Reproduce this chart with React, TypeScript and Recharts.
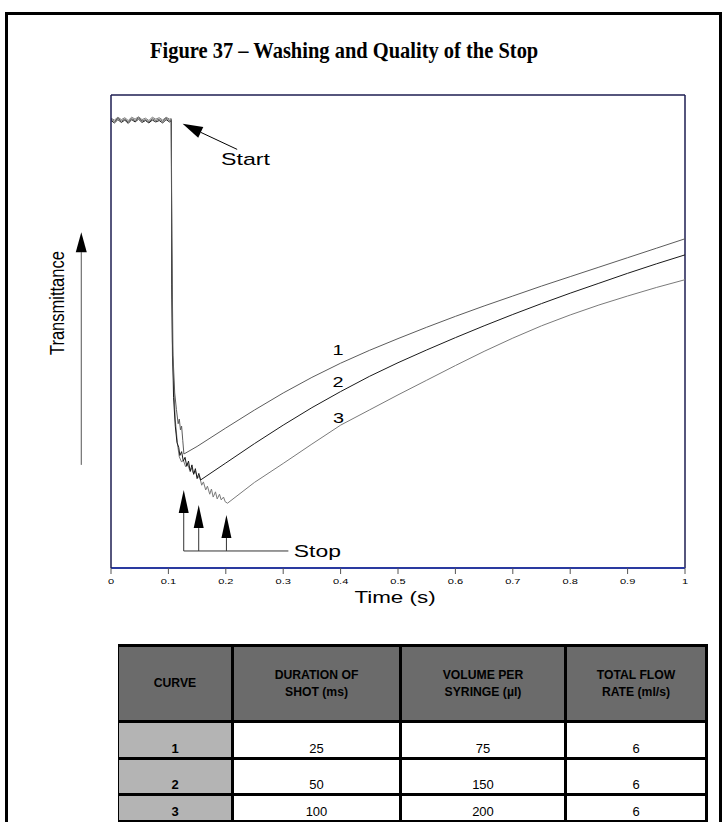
import React from "react";
import { LineChart, Line, XAxis, YAxis, ReferenceLine, ReferenceDot } from "recharts";

// time (s), transmittance (arbitrary units, 0-100)
const curve1: Array<[number, number]> = [
  [0, 94.9], [0.006, 94.4], [0.012, 95.1], [0.018, 94.5], [0.024, 94.9], [0.03, 94.3], [0.036, 95.0],
  [0.042, 94.6], [0.048, 95.2], [0.054, 94.5], [0.06, 94.8], [0.066, 94.3], [0.072, 95.0], [0.078, 94.6],
  [0.084, 94.9], [0.09, 94.4], [0.096, 95.1], [0.102, 94.6], [0.105, 94.8],
  [0.106, 70], [0.108, 45], [0.111, 37], [0.114, 33.5], [0.117, 30.5], [0.119, 31.5], [0.121, 29.2],
  [0.123, 30.0], [0.125, 27.0], [0.127, 24.1],
  [0.15, 25.7], [0.2, 29.6], [0.25, 33.4], [0.3, 37.0], [0.35, 40.3], [0.4, 43.3], [0.45, 46.0],
  [0.5, 48.5], [0.55, 50.9], [0.6, 53.2], [0.65, 55.4], [0.7, 57.5], [0.75, 59.6], [0.8, 61.6],
  [0.85, 63.6], [0.9, 65.6], [0.95, 67.6], [1, 69.6],
];

const curve2: Array<[number, number]> = [
  [0, 94.6], [0.006, 94.1], [0.012, 94.8], [0.018, 94.2], [0.024, 94.7], [0.03, 94.0], [0.036, 94.8],
  [0.042, 94.3], [0.048, 94.9], [0.054, 94.2], [0.06, 94.6], [0.066, 94.1], [0.072, 94.7], [0.078, 94.3],
  [0.084, 94.6], [0.09, 94.1], [0.096, 94.8], [0.102, 94.3], [0.105, 94.6],
  [0.106, 60], [0.107, 48], [0.109, 36], [0.112, 30], [0.115, 26.5], [0.118, 25.5], [0.12, 23.8],
  [0.123, 24.6], [0.126, 22.6], [0.129, 23.4], [0.132, 21.5], [0.135, 22.6], [0.138, 20.4], [0.141, 21.8],
  [0.144, 19.8], [0.147, 21.0], [0.15, 18.9], [0.153, 20.0], [0.156, 18.6],
  [0.2, 22.2], [0.25, 26.3], [0.3, 30.2], [0.35, 33.9], [0.4, 37.3], [0.45, 40.5], [0.5, 43.4],
  [0.55, 46.1], [0.6, 48.7], [0.65, 51.2], [0.7, 53.6], [0.75, 55.9], [0.8, 58.1], [0.85, 60.2],
  [0.9, 62.3], [0.95, 64.3], [1, 66.2],
];

const curve3: Array<[number, number]> = [
  [0, 95.1], [0.006, 94.7], [0.012, 95.3], [0.018, 94.8], [0.024, 95.2], [0.03, 94.6], [0.036, 95.3],
  [0.042, 94.9], [0.048, 95.4], [0.054, 94.8], [0.06, 95.1], [0.066, 94.6], [0.072, 95.3], [0.078, 94.9],
  [0.084, 95.2], [0.09, 94.7], [0.096, 95.3], [0.102, 94.9], [0.105, 95.0],
  [0.106, 56.7], [0.107, 45], [0.109, 39.7], [0.112, 31.3], [0.116, 26.0], [0.119, 23.5], [0.123, 22.4],
  [0.126, 22.8], [0.13, 21.4], [0.133, 22.2], [0.137, 20.7], [0.14, 21.1], [0.144, 19.9], [0.147, 20.5],
  [0.151, 19.0], [0.154, 19.5], [0.158, 17.5], [0.161, 18.2], [0.165, 16.5], [0.168, 17.3], [0.172, 15.6],
  [0.175, 16.7], [0.178, 15.0], [0.182, 16.1], [0.185, 14.6], [0.189, 15.6], [0.192, 14.4], [0.196, 15.0],
  [0.199, 14.0], [0.203, 13.7],
  [0.25, 18.1], [0.3, 22.1], [0.35, 26.2], [0.4, 30.2], [0.45, 33.4], [0.5, 36.6], [0.55, 39.7],
  [0.6, 42.8], [0.65, 45.8], [0.7, 48.6], [0.75, 51.2], [0.8, 53.5], [0.85, 55.6], [0.9, 57.5],
  [0.95, 59.3], [1, 60.95],
];

const timeTicks = [0, 0.1, 0.2, 0.3, 0.4, 0.5, 0.6, 0.7, 0.8, 0.9, 1];

// stop times of the three shots (flow starts at ~0.1 s)
const stopTimes = [0.1267, 0.1528, 0.2011];
const stopArrowTips = [16.5, 13.3, 11.2];

const tableHeaders = ["CURVE", "DURATION OF\nSHOT (ms)", "VOLUME PER\nSYRINGE (µl)", "TOTAL FLOW\nRATE (ml/s)"];
const tableRows = [
  ["1", "25", "75", "6"],
  ["2", "50", "150", "6"],
  ["3", "100", "200", "6"],
];

const toPoints = (arr: Array<[number, number]>) => arr.map(([t, v]) => ({ t, v }));

const NAVY = "#1e1e52";
const SANS = "Arial, 'Liberation Sans', sans-serif";

function WideText({ x, y, sx = 1.42, size = 16, anchor = "start", children }: any) {
  return (
    <text
      transform={`translate(${x},${y}) scale(${sx},1)`}
      textAnchor={anchor}
      fontSize={size}
      fontFamily={SANS}
      fill="#000"
    >
      {children}
    </text>
  );
}

const arrowShape = (len: number, half: number, color = "#000") => (p: any) => {
  const { x1, y1, x2, y2 } = p;
  const dx = x2 - x1;
  const dy = y2 - y1;
  const d = Math.hypot(dx, dy) || 1;
  const ux = dx / d;
  const uy = dy / d;
  const bx = x2 - ux * len;
  const by = y2 - uy * len;
  const nx = -uy * half;
  const ny = ux * half;
  return (
    <g>
      <line x1={x1} y1={y1} x2={bx} y2={by} stroke={color} strokeWidth={1} />
      <polygon points={`${x2},${y2} ${bx + nx},${by + ny} ${bx - nx},${by - ny}`} fill="#000" />
    </g>
  );
};

const TimeTick = ({ x, y, payload }: any) => (
  <WideText x={x} y={y + 8} sx={1.7} size={6.5} anchor="middle">
    {String(payload.value)}
  </WideText>
);

const textShape = (label: string, opts: any = {}) => (p: any) => (
  <WideText x={p.cx} y={p.cy} {...opts}>
    {label}
  </WideText>
);

export default function App() {
  const cellBorder = "3px solid #000";
  const colWidths = [114, 168, 165, 141];
  const rowHeights = [37, 36, 27];
  return (
    <div
      style={{
        position: "absolute",
        left: 0,
        top: 0,
        width: 724,
        height: 822,
        overflow: "hidden",
        background: "#fff",
        fontFamily: SANS,
      }}
    >
      <div
        style={{
          position: "absolute",
          left: 5,
          top: 12,
          width: 711,
          height: 900,
          border: "3px solid #000",
        }}
      />
      <div
        style={{
          position: "absolute",
          left: 150,
          top: 39,
          fontFamily: "'Times New Roman', 'Liberation Serif', serif",
          fontWeight: "bold",
          fontSize: 23,
          lineHeight: 1,
          whiteSpace: "nowrap",
          transform: "scaleX(0.89)",
          transformOrigin: "0 0",
        }}
      >
        Figure 37 – Washing and Quality of the Stop
      </div>

      <div style={{ position: "absolute", left: 0, top: 0 }}>
        <LineChart width={724} height={620} margin={{ top: 95, right: 39, bottom: 12, left: 0 }}>
          <XAxis
            dataKey="t"
            type="number"
            domain={[0, 1]}
            ticks={timeTicks}
            allowDuplicatedCategory={false}
            height={40}
            tickSize={6}
            tick={<TimeTick />}
            tickLine={{ stroke: "#555" }}
            axisLine={{ stroke: "#2a3aa0", strokeWidth: 2 }}
            label={(props: any) => {
              const vb = props?.viewBox ?? { x: 111, y: 568, width: 574, height: 40 };
              return (
                <WideText x={vb.x + vb.width / 2 - 3} y={vb.y + 35} anchor="middle" sx={1.4}>
                  Time (s)
                </WideText>
              );
            }}
          />
          <YAxis
            type="number"
            domain={[0, 100]}
            width={111}
            tick={false}
            tickLine={false}
            axisLine={{ stroke: NAVY, strokeWidth: 1.5 }}
          />
          <ReferenceLine y={100} stroke={NAVY} strokeWidth={1.5} />
          <ReferenceLine x={1} stroke={NAVY} strokeWidth={1.5} />

          <Line data={toPoints(curve3)} dataKey="v" type="linear" dot={false} stroke="#7a7a7a" strokeWidth={1} isAnimationActive={false} />
          <Line data={toPoints(curve2)} dataKey="v" type="linear" dot={false} stroke="#1a1a1a" strokeWidth={1} isAnimationActive={false} />
          <Line data={toPoints(curve1)} dataKey="v" type="linear" dot={false} stroke="#5c5c5c" strokeWidth={1} isAnimationActive={false} />

          {/* curve numbers */}
          <ReferenceDot x={0.3956} y={45.0} r={0} ifOverflow="visible" shape={textShape("1", { size: 14, anchor: "middle" })} />
          <ReferenceDot x={0.3956} y={38.3} r={0} ifOverflow="visible" shape={textShape("2", { size: 14, anchor: "middle" })} />
          <ReferenceDot x={0.3965} y={30.7} r={0} ifOverflow="visible" shape={textShape("3", { size: 14, anchor: "middle" })} />

          {/* Start annotation */}
          <ReferenceLine
            segment={[{ x: 0.2198, y: 88.5 }, { x: 0.1248, y: 93.9 }]}
            ifOverflow="visible"
            shape={arrowShape(20, 6)}
          />
          <ReferenceDot x={0.1917} y={85.2} r={0} ifOverflow="visible" shape={textShape("Start", { sx: 1.45 })} />

          {/* Stop annotation */}
          {stopTimes.map((t, i) => (
            <ReferenceLine
              key={t}
              segment={[{ x: t, y: 3.6 }, { x: t, y: stopArrowTips[i] }]}
              ifOverflow="visible"
              shape={arrowShape(23, 5, "#333")}
            />
          ))}
          <ReferenceLine
            segment={[{ x: stopTimes[0], y: 3.6 }, { x: 0.309, y: 3.6 }]}
            ifOverflow="visible"
            stroke="#333"
            strokeWidth={1}
          />
          <ReferenceDot x={0.3185} y={2.4} r={0} ifOverflow="visible" shape={textShape("Stop", { sx: 1.43 })} />

          {/* Transmittance axis annotation */}
          <ReferenceLine
            segment={[{ x: -0.0518, y: 21.8 }, { x: -0.0518, y: 71.0 }]}
            ifOverflow="visible"
            shape={arrowShape(20, 5.5, "#555")}
          />
          <ReferenceDot
            x={-0.0919}
            y={56}
            r={0}
            ifOverflow="visible"
            shape={(p: any) => (
              <text
                transform={`translate(${p.cx + 6},${p.cy}) rotate(-90) scale(1,1.2)`}
                textAnchor="middle"
                fontSize={16.5}
                fontFamily={SANS}
                fill="#000"
              >
                Transmittance
              </text>
            )}
          />
        </LineChart>
      </div>

      <table
        style={{
          position: "absolute",
          left: 118,
          top: 644,
          width: 588,
          tableLayout: "fixed",
          borderCollapse: "collapse",
          fontFamily: SANS,
          fontSize: 13,
        }}
      >
        <colgroup>
          {colWidths.map((w, i) => (
            <col key={i} style={{ width: w }} />
          ))}
        </colgroup>
        <thead>
          <tr style={{ height: 76 }}>
            {tableHeaders.map((h, i) => (
              <th
                key={h}
                style={{
                  background: "#6b6b6b",
                  border: cellBorder,
                  borderLeft: i === 0 ? "1px solid #000" : cellBorder,
                  fontWeight: "bold",
                  fontSize: 12.2,
                  whiteSpace: "pre-line",
                  lineHeight: "17px",
                  padding: 0,
                  color: "#000",
                }}
              >
                {h}
              </th>
            ))}
          </tr>
        </thead>
        <tbody>
          {tableRows.map((row, r) => (
            <tr key={row[0]} style={{ height: rowHeights[r] }}>
              {row.map((c, i) => (
                <td
                  key={i}
                  style={{
                    background: i === 0 ? "#b4b4b4" : "#fff",
                    border: cellBorder,
                    borderLeft: i === 0 ? "1px solid #000" : cellBorder,
                    textAlign: "center",
                    verticalAlign: "bottom",
                    fontWeight: i === 0 ? "bold" : "normal",
                    padding: "0 0 1px 0",
                    lineHeight: "15px",
                  }}
                >
                  {c}
                </td>
              ))}
            </tr>
          ))}
        </tbody>
      </table>
    </div>
  );
}
